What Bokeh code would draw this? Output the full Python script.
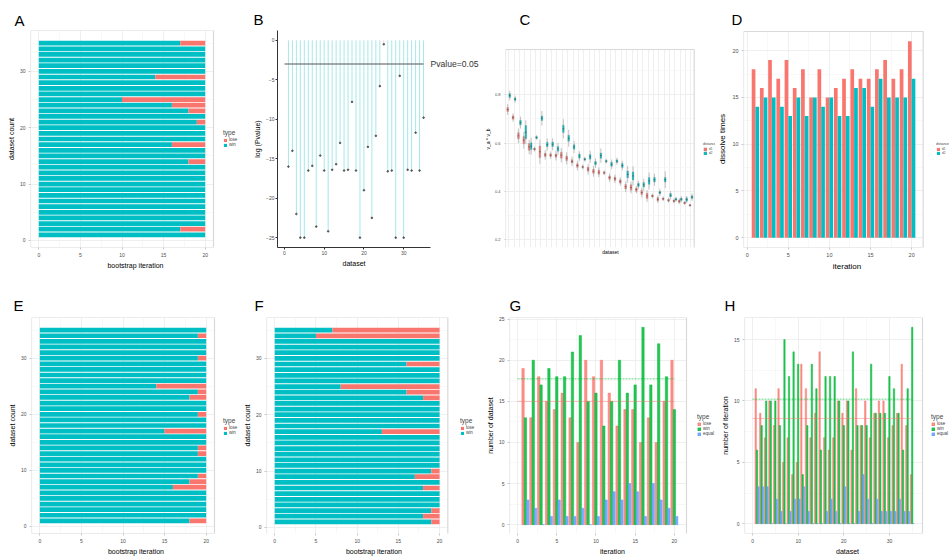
import numpy as np
from bokeh.plotting import figure
from bokeh.models import (Range1d, FixedTicker, Title, Legend, LegendItem,
                          LinearAxis, CustomJSTickFormatter)
from bokeh.layouts import row, column
from bokeh.embed import file_html
from bokeh.resources import INLINE

RED = "#F8766D"
CYAN = "#00BFC4"
GREEN = "#00BA38"
BLUE = "#619CFF"
FONT = "Liberation Sans"

# ---------------- data ----------------
datasets = list(range(1, 36))
iterations = list(range(1, 21))

# A: win / lose per dataset (20 bootstrap iterations)
a_win = [20, 17, 20, 20, 20, 20, 20, 20, 20, 20, 20, 20, 20, 18, 20, 20, 16, 20, 20, 20,
         19, 20, 18, 16, 10, 20, 20, 20, 14, 20, 20, 20, 20, 20, 17]
a_lose = [0, 3, 0, 0, 0, 0, 0, 0, 0, 0, 0, 0, 0, 2, 0, 0, 4, 0, 0, 0,
          1, 0, 2, 4, 10, 0, 0, 0, 6, 0, 0, 0, 0, 0, 3]

# E
e_win = [18, 20, 20, 20, 20, 20, 16, 18, 19, 20, 20, 20, 19, 19, 20, 20, 15, 20, 20, 19,
         20, 20, 18, 19, 14, 20, 20, 20, 20, 19, 20, 20, 20, 19, 20]
e_lose = [2, 0, 0, 0, 0, 0, 4, 2, 1, 0, 0, 0, 1, 1, 0, 0, 5, 0, 0, 1,
          0, 0, 2, 1, 6, 0, 0, 0, 0, 1, 0, 0, 0, 1, 0]

# F
f_win = [19, 18, 19, 20, 20, 20, 18, 20, 17, 19, 20, 20, 20, 20, 20, 20, 13, 20, 20, 20,
         20, 20, 18, 16, 8, 20, 20, 20, 16, 20, 20, 20, 20, 5, 7]
f_lose = [1, 2, 1, 0, 0, 0, 2, 0, 3, 1, 0, 0, 0, 0, 0, 0, 7, 0, 0, 0,
          0, 0, 2, 4, 12, 0, 0, 0, 4, 0, 0, 0, 0, 15, 13]

# B: log(Pvalue) per dataset
b_logp = [-16.0, -14.0, -22.0, -25.0, -25.0, -16.5, -15.9, -23.6, -14.6, -16.5,
          -24.2, -16.4, -15.7, -13.0, -16.5, -16.4, -7.8, -16.5, -25.0, -19.0,
          -13.5, -22.5, -12.1, -5.8, -0.5, -16.6, -16.5, -25.0, -4.5, -25.0,
          -16.4, -16.5, -11.7, -16.5, -9.8]
b_type = ["win"] * 24 + ["lose"] + ["win"] * 10
b_pvalue = 0.05

# C: boxplots of v_a * v_b per dataset, two distances
c_d1_med = [0.739, 0.706, 0.630, 0.612, 0.584, 0.575, 0.564, 0.551, 0.550, 0.548,
            0.550, 0.537, 0.524, 0.507, 0.501, 0.492, 0.483, 0.479, 0.477, 0.457,
            0.452, 0.441, 0.419, 0.416, 0.407, 0.395, 0.381, 0.381, 0.367, 0.369,
            0.363, 0.360, 0.359, 0.352, 0.342]
c_d2_med = [0.797, 0.782, 0.685, 0.645, 0.587, 0.623, 0.703, 0.594, 0.595, 0.576,
            0.659, 0.620, 0.584, 0.546, 0.533, 0.543, 0.517, 0.548, 0.525, 0.512,
            0.525, 0.507, 0.470, 0.464, 0.427, 0.427, 0.443, 0.448, 0.395, 0.448,
            0.384, 0.367, 0.367, 0.366, 0.376]
c_d1_iqr = [0.017, 0.014, 0.025, 0.030, 0.028, 0.008, 0.048, 0.014, 0.011, 0.014,
            0.025, 0.019, 0.014, 0.014, 0.007, 0.017, 0.017, 0.017, 0.008, 0.014,
            0.014, 0.014, 0.019, 0.022, 0.014, 0.017, 0.022, 0.008, 0.014, 0.007,
            0.008, 0.008, 0.011, 0.007, 0.006]
c_d2_iqr = [0.017, 0.011, 0.019, 0.055, 0.028, 0.008, 0.019, 0.019, 0.019, 0.019,
            0.030, 0.025, 0.019, 0.017, 0.008, 0.019, 0.014, 0.022, 0.008, 0.017,
            0.011, 0.017, 0.028, 0.033, 0.014, 0.019, 0.028, 0.019, 0.011, 0.019,
            0.014, 0.008, 0.011, 0.014, 0.011]
c_d1_span = [0.045, 0.035, 0.06, 0.07, 0.06, 0.02, 0.1, 0.04, 0.03, 0.04,
             0.06, 0.05, 0.04, 0.04, 0.02, 0.045, 0.045, 0.04, 0.02, 0.035,
             0.035, 0.035, 0.045, 0.05, 0.03, 0.04, 0.05, 0.02, 0.03, 0.02,
             0.02, 0.02, 0.025, 0.015, 0.012]
c_d2_span = [0.04, 0.03, 0.05, 0.1, 0.07, 0.02, 0.06, 0.05, 0.05, 0.05,
             0.08, 0.07, 0.05, 0.04, 0.02, 0.05, 0.04, 0.06, 0.02, 0.04,
             0.03, 0.04, 0.07, 0.08, 0.035, 0.05, 0.07, 0.05, 0.03, 0.07,
             0.035, 0.02, 0.025, 0.03, 0.03]

# D: dissolve times per iteration
d_d1 = [18, 16, 19, 17, 19, 16, 18, 15, 18, 15, 16, 17, 18, 17, 17, 18, 19, 17, 18, 21]
d_d2 = [14, 15, 15, 14, 13, 15, 13, 15, 14, 15, 13, 13, 16, 16, 14, 17, 15, 15, 15, 17]

# G: number of datasets per iteration
g_lose = [19, 13, 18, 15, 14, 16, 13, 10, 20, 18, 20, 16, 12, 14, 14, 10, 13, 10, 15, 20]
g_win = [13, 20, 17, 19, 18, 18, 21, 23, 15, 16, 12, 15, 20, 16, 17, 24, 17, 22, 18, 14]
g_equal = [3, 2, 0, 1, 3, 1, 1, 2, 0, 1, 3, 4, 3, 5, 4, 1, 5, 3, 2, 1]

# H: number of iterations per dataset
h_lose = [11, 9, 7, 10, 8, 11, 5, 7, 4, 5, 13, 11, 7, 9, 14, 7, 6, 7, 10, 9,
          10, 6, 11, 8, 10, 7, 9, 10, 10, 7, 8, 9, 13, 8, 4]
h_win = [6, 8, 10, 10, 10, 8, 15, 12, 14, 13, 4, 8, 13, 11, 6, 12, 12, 12, 10, 8,
         10, 14, 8, 8, 8, 13, 9, 9, 9, 12, 11, 9, 6, 11, 16]
h_equal = [3, 3, 3, 0, 2, 1, 0, 1, 2, 2, 3, 1, 0, 0, 0, 1, 2, 1, 0, 3,
           0, 0, 1, 4, 2, 0, 2, 1, 1, 1, 1, 2, 1, 1, 0]


# ---------------- helpers ----------------
def make_panel(x0, y0, w, h, panel, xr, yr, ftop, fbot, extend=True):
    """panel = ggplot panel box (page px); the Bokeh frame spans ftop..fbot
    vertically (shared by the row) and, if extend, runs on to the figure's
    right edge so the legend can sit inside it."""
    l, t, r, b = panel
    ppx = (r - l) / (xr[1] - xr[0])
    ppy = (b - t) / (yr[1] - yr[0])
    xr_plot = xr
    right_border = x0 + w - r
    if extend:
        xr_plot = (xr[0], xr[1] + right_border / ppx)
        right_border = 0
    yr_plot = (yr[0] - (fbot - b) / ppy, yr[1] + (t - ftop) / ppy)
    p = figure(width=w, height=h, x_range=Range1d(*xr_plot), y_range=Range1d(*yr_plot),
               output_backend="svg", toolbar_location=None, title=None,
               min_border_left=l - x0, min_border_right=right_border,
               min_border_top=ftop - y0, min_border_bottom=y0 + h - fbot)
    p.background_fill_color = "white"
    p.border_fill_color = "white"
    p.outline_line_color = None
    p._fl = l
    p._fb = fbot
    p._xr, p._yr, p._xp, p._yp = xr, yr, xr_plot, yr_plot
    return p


def finish_panel(p):
    xr, yr, xp, yp = p._xr, p._yr, p._xp, p._yp
    big = 1000.0
    # blank the strips of the frame that lie outside the ggplot panel
    if xp[1] > xr[1]:
        p.quad(left=xr[1], right=xp[1] + big, bottom=yp[0] - big, top=yp[1] + big,
               fill_color="white", line_color=None)
    if yp[1] > yr[1]:
        p.quad(left=xp[0] - big, right=xp[1] + big, bottom=yr[1], top=yp[1] + big,
               fill_color="white", line_color=None)
    if yp[0] < yr[0]:
        p.quad(left=xp[0] - big, right=xp[1] + big, bottom=yp[0] - big, top=yr[0],
               fill_color="white", line_color=None)
    p.quad(left=xr[0], right=xr[1], bottom=yr[0], top=yr[1], fill_color=None,
           line_color="#d9d9d9", line_width=1.2)


def ticks(step, lo, hi, minor=True):
    major = [round(float(v), 6) for v in np.arange(lo, hi + step * 0.01, step)]
    mnr = [round(v + step / 2, 6) for v in major] if minor else []
    return FixedTicker(ticks=major, minor_ticks=mnr)


def style(p, xlabel, ylabel, xt, yt, tick_px="5px", lab_px="7px", classic=False):
    p.xaxis.axis_label = xlabel
    p.yaxis.axis_label = ylabel
    p.xaxis.ticker = xt
    p.yaxis.ticker = yt
    for ax in p.axis:
        ax.major_label_text_font_size = tick_px
        ax.major_label_text_font = FONT
        ax.major_label_text_color = "#4d4d4d"
        ax.axis_label_text_font_size = lab_px
        ax.axis_label_text_font = FONT
        ax.axis_label_text_font_style = "normal"
        ax.axis_label_text_color = "black"
        ax.minor_tick_line_color = None
        ax.major_tick_in = 0
        ax.major_tick_out = 2
        ax.major_label_standoff = 1
        ax.axis_label_standoff = 2
        if classic:
            ax.axis_line_color = "#333333"
            ax.major_tick_line_color = "#333333"
        else:
            ax.axis_line_color = None
            ax.major_tick_line_color = "#c8c8c8"
    if classic:
        p.xgrid.visible = False
        p.ygrid.visible = False
    else:
        for g in (p.xgrid, p.ygrid):
            g.grid_line_color = "#ebebeb"
            g.grid_line_width = 0.8
            g.minor_grid_line_color = "#f4f4f4"
            g.minor_grid_line_width = 0.6


def letter(p, text, left, standoff):
    p.title = Title(text=text, align="left", offset=left - p._fl, standoff=standoff,
                    text_font_size="15px", text_font=FONT, text_font_style="normal",
                    text_color="black")


def legend(p, items, title, left, bottom, title_px="6.5px", lab_px="4.5px", gh=4):
    leg = Legend(items=items, title=title, location=(left - p._fl, p._fb - bottom),
                 orientation="vertical")
    leg.title_text_font_size = title_px
    leg.title_text_font = FONT
    leg.title_text_font_style = "normal"
    leg.title_standoff = 1
    leg.label_text_font_size = lab_px
    leg.label_text_font = FONT
    leg.label_height = gh
    leg.glyph_height = gh
    leg.glyph_width = gh
    leg.label_standoff = 2
    leg.spacing = 0
    leg.padding = 0
    leg.margin = 0
    leg.border_line_color = None
    leg.background_fill_alpha = 0
    p.add_layout(leg, "center")


def stacked(p, win, lose):
    right = [w + lo for w, lo in zip(win, lose)]
    rw = p.hbar(y=datasets, left=0, right=win, height=0.84, fill_color=CYAN,
                line_color=None)
    rl = p.hbar(y=datasets, left=win, right=right, height=0.84, fill_color=RED,
                line_color=None)
    return rl, rw


def three_bars(p, xs, lose, win, equal):
    rl = p.vbar(x=[x - 0.3 for x in xs], top=lose, width=0.3, fill_color=RED,
                fill_alpha=0.8, line_color=RED, line_width=0.5)
    rw = p.vbar(x=xs, top=win, width=0.3, fill_color=GREEN, fill_alpha=0.85,
                line_color=GREEN, line_width=0.5)
    re = p.vbar(x=[x + 0.3 for x in xs], top=equal, width=0.3, fill_color=BLUE,
                fill_alpha=0.85, line_color=BLUE, line_width=0.5)
    n = len(xs)
    p.line([0, n], [np.mean(lose)] * 2, line_color=RED, line_alpha=0.45, line_width=1)
    p.line([0, n], [np.mean(win)] * 2, line_color=GREEN, line_alpha=0.4,
           line_width=1.6, line_dash="2 1")
    return rl, rw, re


# page geometry (Bokeh's page template has no body margin)
Y1, H1 = 0, 278
Y2, H2 = 278, 279
T1, B1 = 30, 247      # row-1 frame top / bottom
T2, B2 = 317, 534     # row-2 frame top / bottom
XC = 481              # left edge of the C / G column

# ---------------- row 1 ----------------
# A
pA = make_panel(0, Y1, 240, H1, (30, 30, 213, 247), (-1, 21), (-1.25, 37.25), T1, B1)
rl, rw = stacked(pA, a_win, a_lose)
style(pA, "bootstrap iteration", "dataset count", ticks(5, 0, 20), ticks(10, 0, 30))
finish_panel(pA)
letter(pA, "A", 14, 3)
legend(pA, [LegendItem(label="lose", renderers=[rl]), LegendItem(label="win", renderers=[rw])],
       "type", 223, 147)

# B
pB = make_panel(240, Y1, XC - 240, H1, (277, 30, 433, 247), (-1.75, 36.75), (-26.25, 1.25),
                T1, B1, extend=False)
b_colors = [RED if t == "lose" else CYAN for t in b_type]
pB.segment(x0=datasets, y0=0, x1=datasets, y1=b_logp, line_color=b_colors,
           line_alpha=0.4, line_width=0.9)
pB.scatter(datasets, b_logp, size=1.6, color="#555555")
thr = float(np.log(b_pvalue))
pB.line([0, 35], [thr, thr], line_color="#555555", line_width=1.1)
style(pB, "dataset", "log (Pvalue)", ticks(10, 0, 30, minor=False),
      ticks(5, -25, 0, minor=False), classic=True)
letter(pB, "B", 253, 5)
pv_axis = LinearAxis(ticker=FixedTicker(ticks=[thr]),
                     formatter=CustomJSTickFormatter(code="return 'Pvalue=0.05'"))
pv_axis.axis_line_color = None
pv_axis.major_tick_line_color = None
pv_axis.major_tick_in = 0
pv_axis.major_tick_out = 0
pv_axis.major_label_standoff = 0
pv_axis.major_label_text_font_size = "8.6px"
pv_axis.major_label_text_font = FONT
pv_axis.major_label_text_color = "#333333"
pB.add_layout(pv_axis, "right")

# C
pC = make_panel(XC, Y1, 715 - XC, H1, (498, 49, 693, 248), (0.4, 35.6), (0.163, 0.988), T1, B1)
off = 0.19
for med, iqr, span, col, sgn in ((c_d1_med, c_d1_iqr, c_d1_span, RED, -1),
                                 (c_d2_med, c_d2_iqr, c_d2_span, CYAN, 1)):
    xs = [d + sgn * off for d in datasets]
    lo = [m - s / 2 for m, s in zip(med, span)]
    hi = [m + s / 2 for m, s in zip(med, span)]
    q1 = [m - q / 2 for m, q in zip(med, iqr)]
    q3 = [m + q / 2 for m, q in zip(med, iqr)]
    pC.segment(x0=xs, y0=lo, x1=xs, y1=hi, line_color="#a8a8a8", line_width=0.7)
    rC = pC.vbar(x=xs, bottom=q1, top=q3, width=0.32, fill_color=col,
                 line_color="#8a8a8a", line_width=0.3)
    pC.segment(x0=[x - 0.16 for x in xs], y0=med, x1=[x + 0.16 for x in xs], y1=med,
               line_color="#4a3a3a", line_width=0.6)
    if sgn < 0:
        rC1 = rC
    else:
        rC2 = rC
style(pC, "dataset", "v_a * v_b", FixedTicker(ticks=[]), ticks(0.2, 0.2, 0.8),
      tick_px="4px", lab_px="5px")
pC.xgrid.ticker = FixedTicker(ticks=datasets)
pC.xaxis.major_tick_line_color = None
pC.xaxis.axis_label_standoff = 1
pC.yaxis.major_tick_out = 1
pC.yaxis.axis_label_standoff = 1
finish_panel(pC)
letter(pC, "C", 512, 6)
legend(pC, [LegendItem(label="d1", renderers=[rC1]), LegendItem(label="d2", renderers=[rC2])],
       "distance", 696, 155, title_px="3.5px", lab_px="3px", gh=4)

# D
pD = make_panel(715, Y1, 235, H1, (738, 31, 922, 247), (-0.45, 21.4), (-1.05, 22.05), T1, B1)
rD1 = pD.vbar(x=[i - 0.225 for i in iterations], top=d_d1, width=0.45,
              fill_color=RED, line_color=None)
rD2 = pD.vbar(x=[i + 0.225 for i in iterations], top=d_d2, width=0.45,
              fill_color=CYAN, line_color=None)
style(pD, "iteration", "dissolve times", ticks(5, 0, 20), ticks(5, 0, 20),
      tick_px="5.5px", lab_px="8px")
finish_panel(pD)
letter(pD, "D", 726, 5)
legend(pD, [LegendItem(label="d1", renderers=[rD1]), LegendItem(label="d2", renderers=[rD2])],
       "distance", 931, 155, title_px="3.5px", lab_px="3px", gh=4)

# ---------------- row 2 ----------------
# E
pE = make_panel(0, Y2, 240, H2, (31, 317, 214, 534), (-1, 21), (-1.25, 37.25), T2, B2)
rl, rw = stacked(pE, e_win, e_lose)
style(pE, "bootstrap iteration", "dataset count", ticks(5, 0, 20), ticks(10, 0, 30))
finish_panel(pE)
letter(pE, "E", 13, 7)
legend(pE, [LegendItem(label="lose", renderers=[rl]), LegendItem(label="win", renderers=[rw])],
       "type", 223, 436)

# F
pF = make_panel(240, Y2, XC - 240, H2, (264, 317, 447, 535), (-1, 21), (-1.25, 37.25), T2, B2)
rl, rw = stacked(pF, f_win, f_lose)
style(pF, "bootstrap iteration", "dataset count", ticks(5, 0, 20), ticks(10, 0, 30))
finish_panel(pF)
letter(pF, "F", 252, 8)
legend(pF, [LegendItem(label="lose", renderers=[rl]), LegendItem(label="win", renderers=[rw])],
       "type", 458, 436)

# G
pG = make_panel(XC, Y2, 715 - XC, H2, (509, 317, 686, 535), (-1.03, 21.55), (-1.2, 25.2), T2, B2)
rl, rw, re = three_bars(pG, iterations, g_lose, g_win, g_equal)
style(pG, "iteration", "number of dataset", ticks(5, 0, 20), ticks(5, 0, 25))
finish_panel(pG)
letter(pG, "G", 509, 7)
legend(pG, [LegendItem(label="lose", renderers=[rl]), LegendItem(label="win", renderers=[rw]),
            LegendItem(label="equal", renderers=[re])], "type", 697, 437)

# H
pH = make_panel(715, Y2, 235, H2, (744, 317, 922, 534), (-1.76, 37.25), (-0.8, 16.8), T2, B2)
rl, rw, re = three_bars(pH, datasets, h_lose, h_win, h_equal)
style(pH, "dataset", "number of iteration", ticks(10, 0, 30), ticks(5, 0, 15))
finish_panel(pH)
letter(pH, "H", 724, 8)
legend(pH, [LegendItem(label="lose", renderers=[rl]), LegendItem(label="win", renderers=[rw]),
            LegendItem(label="equal", renderers=[re])], "type", 931, 437)

layout = column(row(pA, pB, pC, pD), row(pE, pF, pG, pH))
open("out.html", "w").write(file_html(layout, INLINE))
